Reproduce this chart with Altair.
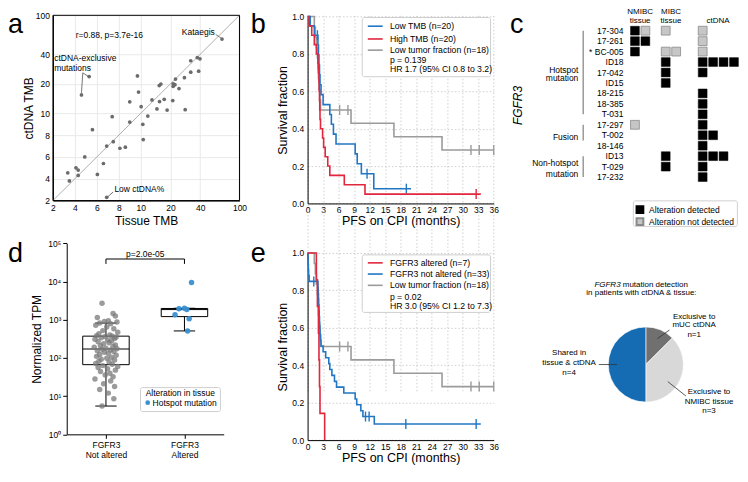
import math
import numpy as np
import pandas as pd
import altair as alt

FONT = "Liberation Sans"
ONE = pd.DataFrame({"k": [0]})

# ---------------- data ----------------
# panel a : tissue TMB vs ctDNA TMB
a_tissue = [66.5, 32.1, 37.4, 39.8, 5.3, 9.7, 4.6, 32.1, 38.6, 27.7, 22.5, 15.4, 16.0, 21.3, 22.2,
            21.3, 24.4, 9.8, 13.0, 15.5, 17.3, 21.1, 9.0, 10.1, 14.6, 18.5, 28.2, 7.4, 11.8, 9.0,
            10.5, 5.6, 10.6, 7.5, 6.9, 8.6, 8.1, 4.9, 6.6, 4.1, 4.3, 3.35, 4.3, 6.05, 3.5, 6.9]
a_ctdna = [57.3, 34.4, 37.1, 36.0, 23.7, 24.1, 15.4, 26.3, 26.9, 23.1, 22.4, 19.2, 19.9, 20.0, 19.6,
           18.9, 17.9, 16.5, 13.7, 13.2, 13.9, 13.5, 13.1, 11.7, 11.1, 10.8, 10.9, 9.7, 9.75, 9.2,
           9.0, 8.5, 7.6, 7.4, 7.0, 6.9, 6.8, 6.0, 5.4, 5.0, 4.8, 4.55, 4.3, 4.4, 3.8, 2.3]
a_ticks = [2, 4, 6, 8, 10, 20, 40, 100]
a_note_text = ["r=0.88, p=3.7e-16", "Kataegis", "ctDNA-exclusive", "mutations", "Low ctDNA%"]
a_note_x = [4.07, 56.2, 2.12, 2.12, 7.6]
a_note_y = [63.7, 68.2, 36.3, 29.2, 3.06]
a_note_align = ["left", "right", "left", "left", "left"]
a_lead_x1 = [57.5, 4.72, 4.72, 7.49]
a_lead_y1 = [63.7, 25.9, 25.9, 2.79]
a_lead_x2 = [64.6, 5.2, 4.6, 7.0]
a_lead_y2 = [59.0, 23.9, 16.2, 2.35]

# panel b : KM by TMB
b_labels = ["Low TMB (n=20)", "High TMB (n=20)", "Low tumor fraction (n=18)"]
b_stats = ["p = 0.139", "HR 1.7 (95% CI 0.8 to 3.2)"]
gray_t = [0, 1.3, 1.5, 1.7, 1.9, 2.0, 2.1, 2.2, 2.4, 2.5, 8.4, 16.7, 26.0, 36.0]
gray_s = [1.0, 0.944, 0.889, 0.833, 0.778, 0.722, 0.667, 0.611, 0.556, 0.5, 0.429, 0.357, 0.286, 0.286]
gray_ct = [6.2, 7.8, 31.6, 33.2, 36.0]
gray_cs = [0.5, 0.5, 0.286, 0.286, 0.286]
lowtmb_t = [0, 0.5, 1.3, 2.0, 2.1, 2.2, 2.3, 2.4, 2.6, 3.0, 4.3, 4.6, 5.0, 5.5, 9.2, 9.6, 10.4, 12.8, 20.0]
lowtmb_s = [1.0, 0.95, 0.9, 0.847, 0.794, 0.741, 0.688, 0.635, 0.582, 0.529, 0.476, 0.424, 0.371, 0.318,
            0.265, 0.212, 0.159, 0.079, 0.079]
lowtmb_ct = [1.9, 11.5, 19.1]
lowtmb_cs = [0.9, 0.159, 0.079]
hightmb_t = [0, 0.3, 0.8, 1.3, 1.7, 2.0, 2.1, 2.2, 2.25, 2.3, 2.35, 2.4, 2.5, 2.9, 3.1, 3.4, 3.9, 4.3, 7.1, 11.1, 33.5]
hightmb_s = [1.0, 0.95, 0.9, 0.85, 0.8, 0.75, 0.7, 0.65, 0.6, 0.55, 0.5, 0.45, 0.4, 0.35, 0.3, 0.25, 0.2,
             0.15, 0.1, 0.05, 0.05]
hightmb_ct = [32.6]
hightmb_cs = [0.05]

# panel c : FGFR3 alteration map
patients = ["17-304", "17-261", "* BC-005", "ID18", "17-042", "ID15", "18-215", "18-385", "T-031",
            "17-297", "T-002", "18-146", "ID13", "T-029", "17-232"]
nmibc = ["DN", "DD", "D", "", "", "", "", "", "", "N", "", "", "", "", ""]
mibc = ["N", "", "NN", "D", "D", "D", "", "", "", "", "", "", "D", "D", ""]
ctdna = ["N", "N", "N", "DDDD", "D", "", "D", "D", "D", "D", "DD", "D", "DDD", "D", "D"]
group_names = [["Hotspot", "mutation"], ["Fusion"], ["Non-hotspot", "mutation"]]
group_r0 = [0, 9, 12]
group_r1 = [8, 10.5, 14]

# panel d : FGFR3 expression
d_not = [2700, 1450, 1250, 1150, 950, 900, 870, 820, 790, 720, 650, 580, 520, 470, 430, 400, 380,
         370, 365, 355, 340, 325, 310, 295, 280, 265, 250, 235, 220, 210, 200, 190, 180, 175,
         168, 162, 155, 148, 140, 132, 124, 117, 110, 104, 98, 93, 88, 82, 78, 72, 68,
         63, 60, 56, 52, 48, 44, 40, 36, 32, 28, 25, 21, 18, 15, 12, 8.5, 5.5]
d_not_jit = [-0.05, 0.09, 0.12, -0.11, 0.03, -0.02, 0.14, -0.08, 0.06, -0.13,
             0.01, 0.10, -0.04, 0.15, -0.09, 0.05, -0.12, 0.08, -0.01, 0.13,
             -0.06, 0.11, -0.14, 0.02, 0.07, -0.10, 0.04, -0.03, 0.12, -0.07,
             0.09, -0.15, 0.00, 0.14, -0.05, 0.06, -0.11, 0.10, -0.02, 0.03,
             -0.08, 0.13, -0.12, 0.07, 0.01, -0.06, 0.11, -0.09, 0.04, -0.13,
             0.08, -0.04, 0.15, -0.10, 0.02, 0.12, -0.07, 0.05, -0.01, 0.09,
             -0.14, 0.06, -0.03, 0.11, -0.08, 0.03, 0.10, -0.05]
d_alt = [9400, 2000, 1950, 1850, 1360, 1060, 510]
d_alt_jit = [0.09, 0.0, -0.07, 0.03, -0.12, 0.06, 0.04]

# panel e : KM by FGFR3
e_labels = ["FGFR3 altered (n=7)", "FGFR3 not altered (n=33)", "Low tumor fraction (n=18)"]
e_stats = ["p = 0.02", "HR 3.0 (95% CI 1.2 to 7.3)"]
alt_t = [0, 1.7, 1.9, 2.1, 2.2, 2.3, 2.4, 3.3]
alt_s = [1.0, 0.857, 0.714, 0.571, 0.429, 0.286, 0.143, 0.0]
not_t = [0, 0.05, 0.1, 0.15, 0.2, 0.3, 2.0, 2.05, 2.1, 2.15, 2.2, 2.25, 2.3, 2.35, 2.4, 2.5, 2.6,
         3.0, 3.5, 4.1, 4.3, 4.7, 5.2, 5.6, 7.0, 9.2, 9.5, 10.3, 10.7, 12.9, 33.5]
not_s = [1.0, 0.97, 0.939, 0.909, 0.879, 0.848, 0.817, 0.785, 0.754, 0.723, 0.691, 0.66, 0.628, 0.597,
         0.566, 0.534, 0.503, 0.472, 0.44, 0.409, 0.377, 0.346, 0.314, 0.283, 0.252, 0.22, 0.189, 0.157,
         0.126, 0.086, 0.086]
not_ct = [1.2, 11.2, 11.9, 19.0, 32.6]
not_cs = [0.848, 0.126, 0.126, 0.086, 0.086]

# panel f : pie
pie_cats = ["Exclusive to mUC ctDNA", "Exclusive to NMIBC tissue", "Shared in tissue & ctDNA"]
pie_n = [1, 3, 4]

# ---------------- colours ----------------
BLUE = "#2277c4"
RED = "#e2263d"
GRAY = "#9b9b9b"
DOTBLUE = "#3a8fd2"
PIE_COLORS = ["#707070", "#d8d8d8", "#156cb2"]

# ---------------- layout (pixels) ----------------
A_W, A_PW, A_H = 254.7, 186.8, 185.5
KM_W = 186.4
B_H, B_TOP = 188.4, 1.25
E_H, E_TOP = 236.4, 49.0
D_H, D_TOP = 230.6, 39.4
C_W, C_H = 240, 185
F_W, F_H = 240, 200
LET_SIZE = 27
LET_Y0 = 18      # baseline of top-row panel letters (cell coords)
LET_Y1 = 58.4    # baseline of bottom-row panel letters (cell coords)


# ---------------- helpers ----------------
def T(x, y, s, size=8.5, align="left", baseline="middle", angle=0, italic=False, color="black"):
    kw = dict(text=s, fontSize=size, align=align, baseline=baseline, font=FONT, color=color)
    if angle:
        kw["angle"] = angle
    if italic:
        kw["fontStyle"] = "italic"
    return alt.Chart(ONE).mark_text(**kw).encode(x=alt.value(x), y=alt.value(y))


def SEG(x1, y1, x2, y2, color="black", w=1.0):
    return alt.Chart(ONE).mark_rule(color=color, strokeWidth=w).encode(
        x=alt.value(x1), y=alt.value(y1), x2=alt.value(x2), y2=alt.value(y2))


def BOX(x1, y1, x2, y2, stroke="#cccccc", fill="white"):
    return alt.Chart(ONE).mark_rect(fill=fill, stroke=stroke, strokeWidth=1, cornerRadius=2).encode(
        x=alt.value(x1), x2=alt.value(x2), y=alt.value(y1), y2=alt.value(y2))


def LETTER(x, y, s):
    return T(x, y, s, size=LET_SIZE, baseline="alphabetic")


AXC = dict(labelFontSize=8.5, titleFontWeight="normal", domainColor="black", labelColor="black",
           titleColor="black", labelFont=FONT, titleFont=FONT)

# ---------------- panel a ----------------
def symt(v):
    return v / 0.9 if v <= 10 else 10 * (1 / 0.9 + math.log10(v / 10))


INV = "round(datum.value <= 11.1112 ? datum.value * 0.9 : 10 * pow(10, datum.value / 10 - 1.1111111))"
lo, hi = symt(2), symt(100)
a_xs = alt.Scale(domain=[lo, hi], range=[0, A_PW], nice=False, zero=False)
a_ys = alt.Scale(domain=[lo, hi], range=[A_H, 0], nice=False, zero=False)
a_tick_t = [symt(v) for v in a_ticks]
a_xaxis = alt.Axis(values=a_tick_t, labelExpr=INV, title="Tissue TMB", grid=True, gridColor="#e9e9e9",
                   ticks=False, tickSize=0, labelPadding=3, titlePadding=3, labelFlush=False,
                   labelOverlap=False, titleFontSize=12, **AXC)
a_yaxis = alt.Axis(values=a_tick_t, labelExpr=INV, title="ctDNA TMB", grid=True, gridColor="#e9e9e9",
                   ticks=False, tickSize=0, labelPadding=3.5, titlePadding=0, labelFlush=False,
                   labelOverlap=False, titleFontSize=12, **AXC)


def aX():
    return alt.X("tx:Q", scale=a_xs, axis=a_xaxis)


def aY():
    return alt.Y("ty:Q", scale=a_ys, axis=a_yaxis)


a_df = pd.DataFrame({"tx": [symt(v) for v in a_tissue], "ty": [symt(v) for v in a_ctdna]})
a_pts = alt.Chart(a_df).mark_circle(size=14, color="#6b6b6b", opacity=1).encode(x=aX(), y=aY())
a_diag = alt.Chart(pd.DataFrame({"tx": [lo, hi], "ty": [lo, hi]})).mark_line(
    color="#9a9a9a", strokeWidth=0.8).encode(x=aX(), y=aY())
a_frame = alt.Chart(pd.DataFrame({"tx": [lo], "tx2": [hi], "ty": [lo], "ty2": [hi]})).mark_rect(
    fillOpacity=0, stroke="black", strokeWidth=1).encode(x=aX(), x2="tx2:Q", y=aY(), y2="ty2:Q")
a_lead_df = pd.DataFrame({"tx": [symt(v) for v in a_lead_x1], "ty": [symt(v) for v in a_lead_y1],
                          "tx2": [symt(v) for v in a_lead_x2], "ty2": [symt(v) for v in a_lead_y2]})
a_leads = alt.Chart(a_lead_df).mark_rule(color="#555555", strokeWidth=0.8).encode(
    x=aX(), x2="tx2:Q", y=aY(), y2="ty2:Q")
a_layers = [a_diag, a_pts, a_leads]
for s, xv, yv, al in zip(a_note_text, a_note_x, a_note_y, a_note_align):
    ndf = pd.DataFrame({"tx": [symt(xv)], "ty": [symt(yv)], "s": [s]})
    a_layers.append(alt.Chart(ndf).mark_text(fontSize=8.5, align=al, font=FONT, color="black").encode(
        x=aX(), y=aY(), text="s:N"))
a_layers += [a_frame, LETTER(-45, LET_Y0, "a")]
a_chart = alt.layer(*a_layers).properties(width=A_W, height=A_H)


# ---------------- KM panels ----------------
def km_chart(curves, order, stats, ybot, ytop, box, rows_y, stats_y, letter, letter_y):
    xs = alt.Scale(domain=[0, 36], range=[0, KM_W], nice=False, zero=False)
    ys = alt.Scale(domain=[0, 1], range=[ybot, ytop], nice=False, zero=False)
    xaxis = alt.Axis(values=list(range(0, 37, 3)), title="PFS on CPI (months)", grid=True,
                     gridDash=[1.5, 2], gridColor="#c4c4c4", gridWidth=0.8, ticks=False, tickSize=0,
                     labelPadding=2, titlePadding=1, labelFlush=False, labelOverlap=False,
                     titleFontSize=12.5, **AXC)
    yaxis = alt.Axis(values=[0, 0.2, 0.4, 0.6, 0.8, 1.0], format=".1f", title="Survival fraction",
                     grid=True, gridDash=[1.5, 2], gridColor="#c4c4c4", gridWidth=0.8, ticks=False,
                     tickSize=0, labelPadding=4, titlePadding=2, labelFlush=False, labelOverlap=False,
                     titleFontSize=12.5, **AXC)
    X = alt.X("t:Q", scale=xs, axis=xaxis)
    Y = alt.Y("s:Q", scale=ys, axis=yaxis)
    layers = []
    for idx in order:
        label, color, t, s, ct, cs = curves[idx]
        df = pd.DataFrame({"t": t, "s": s})
        layers.append(alt.Chart(df).mark_line(interpolate="step-after", color=color,
                                              strokeWidth=1.6).encode(x=X, y=Y))
        if ct:
            cdf = pd.DataFrame({"t": ct, "s": cs})
            layers.append(alt.Chart(cdf).mark_tick(orient="vertical", size=10, thickness=1.4,
                                                   color=color, opacity=1).encode(x=X, y=Y))
    x1, y1, x2, y2 = box
    layers.append(BOX(x1, y1, x2, y2, stroke="#cfcfcf"))
    for (label, color, *_), yy in zip(curves, rows_y):
        layers.append(SEG(x1 + 5.6, yy, x1 + 20.5, yy, color, 1.6))
        layers.append(T(x1 + 27.7, yy, label, 8.7))
    for line, yy in zip(stats, stats_y):
        layers.append(T(x1 + 27.7, yy, line, 8.7))
    layers.append(LETTER(-57, letter_y, letter))
    return alt.layer(*layers).properties(width=KM_W, height=ybot)


b_curves = [
    (b_labels[0], BLUE, lowtmb_t, lowtmb_s, lowtmb_ct, lowtmb_cs),
    (b_labels[1], RED, hightmb_t, hightmb_s, hightmb_ct, hightmb_cs),
    (b_labels[2], GRAY, gray_t, gray_s, gray_ct, gray_cs),
]
b_chart = km_chart(b_curves, [2, 0, 1], b_stats, B_H, B_TOP, (54.7, 2.2, 183.2, 61.5),
                   [10.9, 23.7, 34.9], [44.9, 53.5], "b", LET_Y0)

e_curves = [
    (e_labels[0], RED, alt_t, alt_s, [], []),
    (e_labels[1], BLUE, not_t, not_s, not_ct, not_cs),
    (e_labels[2], GRAY, gray_t, gray_s, gray_ct, gray_cs),
]
e_chart = km_chart(e_curves, [2, 1, 0], e_stats, E_H, E_TOP, (54.7, 50.9, 183.2, 108.5),
                   [58.9, 70.1, 81.4], [93.2, 102.1], "e", LET_Y1)

# ---------------- panel c ----------------
c_xs = alt.Scale(domain=[0, 10], range=[140.8, 245.3], nice=False, zero=False)
c_ys = alt.Scale(domain=[0, 14], range=[15.4, 162.0], nice=False, zero=False)
starts = {"nmibc": 0.0, "mibc": 2.95, "ctdna": 6.49}
sq_rows = []
for i in range(len(patients)):
    for key, col in (("nmibc", nmibc), ("mibc", mibc), ("ctdna", ctdna)):
        for j, ch in enumerate(col[i]):
            sq_rows.append({"row": i, "slot": starts[key] + j, "st": ch})
sq = pd.DataFrame(sq_rows)
cX = alt.X("slot:Q", scale=c_xs, axis=None)
cY = alt.Y("row:Q", scale=c_ys, axis=None)
c_det = alt.Chart(sq[sq.st == "D"]).mark_square(size=78, fill="black", stroke="black", strokeWidth=0.5,
                                                opacity=1).encode(x=cX, y=cY)
c_nd = alt.Chart(sq[sq.st == "N"]).mark_square(size=78, fill="#c6c6c6", stroke="#8a8a8a", strokeWidth=0.8,
                                               opacity=1).encode(x=cX, y=cY)
c_names = alt.Chart(pd.DataFrame({"row": list(range(len(patients))), "name": patients})).mark_text(
    align="right", fontSize=8.5, font=FONT, color="black").encode(
    x=alt.value(129.3), y=cY, text="name:N")
c_br = alt.Chart(pd.DataFrame({"row": group_r0, "r1": group_r1})).mark_rule(
    color="#9a9a9a", strokeWidth=1.5).encode(x=alt.value(89.0), y=cY, y2="r1:Q")
c_layers = [c_br, c_names, c_det, c_nd,
            T(146.0, -3, "NMIBC", size=8, align="center"), T(146.0, 5.5, "tissue", size=8, align="center"),
            T(176.9, -3, "MIBC", size=8, align="center"), T(176.9, 5.5, "tissue", size=8, align="center"),
            T(224.1, 5.5, "ctDNA", size=8, align="center"),
            T(24, 90.3, "FGFR3", size=12, align="center", angle=270, italic=True),
            T(84.1, 54.5, group_names[0][0], align="right"), T(84.1, 63.1, group_names[0][1], align="right"),
            T(84.1, 121.8, group_names[1][0], align="right"),
            T(84.1, 148.0, group_names[2][0], align="right"), T(84.1, 158.6, group_names[2][1], align="right"),
            BOX(139.2, 185.8, 243.4, 211.4, stroke="#d0d0d0"),
            alt.Chart(ONE).mark_square(size=46, fill="black", stroke="black", opacity=1).encode(
                x=alt.value(145.8), y=alt.value(194.5)),
            alt.Chart(ONE).mark_square(size=46, fill="#c6c6c6", stroke="#8a8a8a", opacity=1).encode(
                x=alt.value(145.8), y=alt.value(206.7)),
            T(155.0, 194.5, "Alteration detected"), T(155.0, 206.7, "Alteration not detected"),
            LETTER(15.6, LET_Y0, "c")]
c_chart = alt.layer(*c_layers).properties(width=C_W, height=C_H)

# ---------------- panel d ----------------
def box_stats(vals, g):
    v = np.array(vals, float)
    q1, med, q3 = np.percentile(v, [25, 50, 75])
    iqr = q3 - q1
    lo_w = v[v >= q1 - 1.5 * iqr].min()
    hi_w = v[v <= q3 + 1.5 * iqr].max()
    return dict(g=g, q1=q1, med=med, q3=q3, lo=lo_w, hi=hi_w,
                bx1=g - 0.296, bx2=g + 0.296, cx1=g - 0.136, cx2=g + 0.136)


bdf = pd.DataFrame([box_stats(d_not, 0), box_stats(d_alt, 1)])
d_xs = alt.Scale(domain=[-0.5, 1.5], range=[13.8, 171], nice=False, zero=False)
d_ys = alt.Scale(type="log", domain=[1, 100000], range=[D_H, D_TOP], nice=False)
SUP = "'10' + ['\u2070','\u00b9','\u00b2','\u00b3','\u2074','\u2075'][round(log(datum.value) / LN10)]"
d_xaxis = alt.Axis(values=[0, 1], labelExpr="datum.value < 0.5 ? ['FGFR3', 'Not altered'] : ['FGFR3', 'Altered']",
                   title="", grid=False, ticks=True, tickSize=4, tickColor="black", labelPadding=2,
                   labelLineHeight=10, labelFlush=False, labelOverlap=False, **AXC)
d_yaxis = alt.Axis(values=[1, 10, 100, 1000, 10000, 100000], labelExpr=SUP, title="Normalized TPM",
                   offset=-13.8, grid=False, ticks=True, tickSize=4, tickColor="black", labelPadding=2,
                   titlePadding=4, labelFlush=False, labelOverlap=False, titleFontSize=12, **AXC)


def dX(f):
    return alt.X(f, type="quantitative", scale=d_xs, axis=d_xaxis)


def dY(f):
    return alt.Y(f, type="quantitative", scale=d_ys, axis=d_yaxis)


d_wlo = alt.Chart(bdf).mark_rule(color="black", strokeWidth=1).encode(x=dX("g"), y=dY("lo"), y2="q1:Q")
d_whi = alt.Chart(bdf).mark_rule(color="black", strokeWidth=1).encode(x=dX("g"), y=dY("q3"), y2="hi:Q")
d_box = alt.Chart(bdf).mark_rect(fill="white", stroke="black", strokeWidth=1).encode(
    x=dX("bx1"), x2="bx2:Q", y=dY("q1"), y2="q3:Q")
d_med = alt.Chart(bdf).mark_rule(color="black", strokeWidth=1).encode(x=dX("bx1"), x2="bx2:Q", y=dY("med"))
d_cap1 = alt.Chart(bdf).mark_rule(color="black", strokeWidth=1).encode(x=dX("cx1"), x2="cx2:Q", y=dY("lo"))
d_cap2 = alt.Chart(bdf).mark_rule(color="black", strokeWidth=1).encode(x=dX("cx1"), x2="cx2:Q", y=dY("hi"))
gdf = pd.DataFrame({"x": [0 + j for j in d_not_jit], "v": d_not})
adf = pd.DataFrame({"x": [1 + j for j in d_alt_jit], "v": d_alt})
d_gray = alt.Chart(gdf).mark_circle(size=30, color="#7a7a7a", opacity=0.75).encode(x=dX("x"), y=dY("v"))
d_blue = alt.Chart(adf).mark_circle(size=30, color=DOTBLUE, opacity=0.95).encode(x=dX("x"), y=dY("v"))
br_df = pd.DataFrame({"x": [0, 0, 1, 1], "v": [29000, 39000, 39000, 29000], "o": [0, 1, 2, 3]})
d_brk = alt.Chart(br_df).mark_line(color="black", strokeWidth=1).encode(
    x=dX("x"), y=dY("v"), order=alt.Order("o:Q"))
d_p = alt.Chart(pd.DataFrame({"x": [0.5], "v": [54000], "s": ["p=2.0e-05"]})).mark_text(
    fontSize=8.5, font=FONT, color="black").encode(x=dX("x"), y=dY("v"), text="s:N")
d_layers = [d_wlo, d_whi, d_box, d_med, d_cap1, d_cap2, d_gray, d_blue, d_brk, d_p,
            BOX(87.7, 183.8, 167.7, 207.8, stroke="#cfcfcf"),
            T(127.5, 189.6, "Alteration in tissue", align="center"),
            alt.Chart(ONE).mark_circle(size=22, color=DOTBLUE, opacity=1).encode(
                x=alt.value(94.9), y=alt.value(198.9)),
            T(99.8, 198.9, "Hotspot mutation"),
            LETTER(-45, LET_Y1, "d")]
d_chart = alt.layer(*d_layers).properties(width=A_W, height=D_H)

# ---------------- panel f ----------------
pie_df = pd.DataFrame({"cat": pie_cats, "n": pie_n, "o": [0, 1, 2]})
f_pie = alt.Chart(pie_df).mark_arc(radius=37.6, stroke="white", strokeWidth=0.6).encode(
    theta=alt.Theta("n:Q", stack=True),
    color=alt.Color("cat:N", scale=alt.Scale(domain=pie_cats, range=PIE_COLORS), legend=None),
    order=alt.Order("o:Q"), x=alt.value(151.7), y=alt.value(160.7))
f_layers = [f_pie,
            T(126.4, 80.7, "FGFR3", size=8, align="right", italic=True),
            T(128.6, 80.7, "mutation detection", size=8),
            T(147.3, 89.3, "in patients with ctDNA & tissue:", size=8, align="center"),
            T(200.1, 112.7, "Exclusive to", size=8, align="center"),
            T(200.1, 121.3, "mUC ctDNA", size=8, align="center"),
            T(200.1, 131.6, "n=1", size=8, align="center"),
            T(74.9, 149.5, "Shared in", size=8, align="center"),
            T(74.9, 159.1, "tissue & ctDNA", size=8, align="center"),
            T(74.9, 169.4, "n=4", size=8, align="center"),
            T(215.0, 188.7, "Exclusive to", size=8, align="center"),
            T(215.0, 198.1, "NMIBC tissue", size=8, align="center"),
            T(215.0, 207.7, "n=3", size=8, align="center"),
            SEG(163.2, 134.8, 175.4, 126.1, "#333333", 0.8),
            SEG(104.6, 160.7, 122.7, 160.7, "#333333", 0.8),
            SEG(173.7, 177.8, 191.8, 192.2, "#333333", 0.8)]
f_chart = alt.layer(*f_layers).properties(width=F_W, height=F_H)

# ---------------- assemble ----------------
chart = alt.concat(a_chart, b_chart, c_chart, d_chart, e_chart, f_chart,
                   columns=3, spacing=0, bounds="flush", align="each").resolve_scale(
    x="independent", y="independent", color="independent").properties(
    padding=0, background="white").configure_view(strokeWidth=0).configure_axis(
    labelFont=FONT, titleFont=FONT)

chart.save("out.html", embed_options={"renderer": "svg", "actions": False})
